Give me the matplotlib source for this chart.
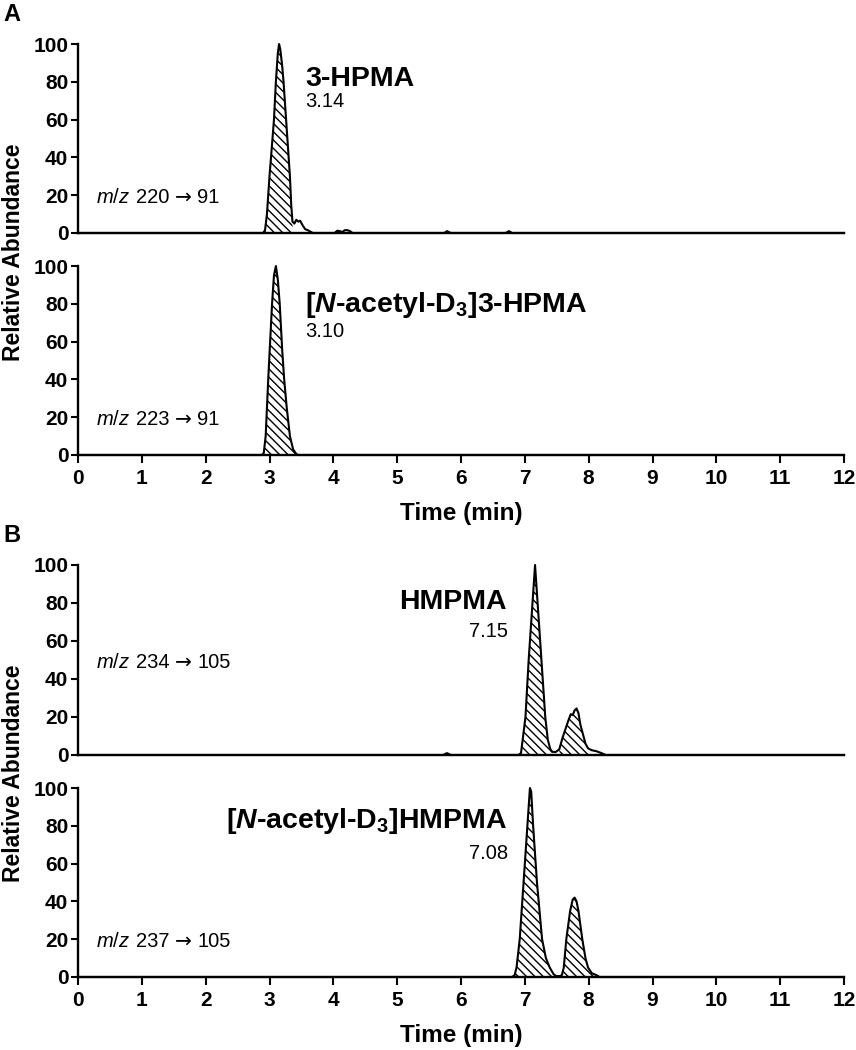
import numpy as np
import matplotlib
matplotlib.use('Agg')
import matplotlib.pyplot as plt
from matplotlib.offsetbox import TextArea, HPacker, AnnotationBbox

plt.rcParams['font.family'] = ['Liberation Sans', 'DejaVu Sans']
plt.rcParams['mathtext.fontset'] = 'custom'
plt.rcParams['mathtext.rm'] = 'Liberation Sans'
plt.rcParams['mathtext.it'] = 'Liberation Sans:italic'
plt.rcParams['mathtext.bf'] = 'Liberation Sans:bold'
plt.rcParams['mathtext.bfit'] = 'Liberation Sans:bold:italic'
plt.rcParams['hatch.linewidth'] = 1.0

# ---- data (time in min, relative abundance in %) ----
# 3-HPMA, m/z 220 -> 91
hpma_t = [0, 2.90, 2.93, 2.96, 3.00, 3.04, 3.07, 3.10, 3.13, 3.15, 3.17, 3.20, 3.22,
          3.26, 3.29, 3.32, 3.34, 3.36, 3.39, 3.42, 3.45, 3.48, 3.52, 3.56, 3.60, 3.65,
          3.68, 4.02, 4.06, 4.10, 4.14, 4.18, 4.22, 4.26, 4.30, 5.74, 5.78, 5.84, 6.70,
          6.75, 6.80, 12]
hpma_y = [0, 0, 1.5, 10, 30, 47, 60, 80, 95, 100, 97, 88, 80,
          60, 45, 30, 15, 6, 5, 7, 6, 6.5, 4, 2, 1.5, 0.5,
          0, 0, 1.2, 1, 0.5, 1.5, 1.5, 1, 0, 0, 1, 0, 0,
          1, 0, 0]

# [N-acetyl-D3]3-HPMA, m/z 223 -> 91
hpma_d3_t = [0, 2.88, 2.91, 2.94, 2.98, 3.01, 3.04, 3.07, 3.10, 3.13, 3.16, 3.20,
             3.23, 3.27, 3.32, 3.37, 3.42, 3.45, 12]
hpma_d3_y = [0, 0, 1, 10, 40, 60, 80, 95, 100, 93, 80, 55,
             40, 25, 10, 3, 0.5, 0, 0]

# HMPMA, m/z 234 -> 105
hmpma_t = [0, 5.72, 5.78, 5.84, 6.90, 6.94, 7.01, 7.06, 7.12, 7.16, 7.20, 7.26, 7.32,
           7.36, 7.40, 7.43, 7.48, 7.54, 7.59, 7.63, 7.68, 7.72, 7.75, 7.78, 7.81,
           7.84, 7.87, 7.91, 7.95, 7.99, 8.05, 8.12, 8.20, 8.27, 12]
hmpma_y = [0, 0, 1, 0, 0, 1, 20, 50, 80, 100, 80, 50, 20,
           8, 3, 1.7, 1.5, 3, 9, 13, 18, 21.5, 21, 23.5, 24.5,
           22, 16, 11, 6, 3.5, 2.5, 2, 1, 0, 0]

# [N-acetyl-D3]HMPMA, m/z 237 -> 105
hmpma_d3_t = [0, 6.80, 6.84, 6.87, 6.92, 6.98, 7.04, 7.08, 7.10, 7.13, 7.19, 7.27,
              7.33, 7.39, 7.45, 7.49, 7.55, 7.58, 7.61, 7.65, 7.71, 7.75, 7.78, 7.81,
              7.84, 7.90, 7.95, 7.99, 8.05, 8.12, 8.17, 12]
hmpma_d3_y = [0, 0, 1, 5, 20, 50, 80, 100, 98, 80, 50, 20,
              10, 5, 1.5, 0.5, 0.5, 1, 5, 20, 35, 41, 42, 40,
              35, 20, 10, 5, 2, 1, 0, 0]

# hatched (integrated) windows
hpma_win = [(2.90, 3.36)]
hpma_d3_win = [(2.88, 3.45)]
hmpma_win = [(6.90, 7.43), (7.50, 8.05)]
hmpma_d3_win = [(6.80, 7.49), (7.56, 8.17)]

traces = [
    (hpma_t, hpma_y, hpma_win, '3-HPMA', '3.14', '220', '91'),
    (hpma_d3_t, hpma_d3_y, hpma_d3_win, r'[$\mathbfit{N}$-acetyl-D$_\mathbf{3}$]3-HPMA', '3.10', '223', '91'),
    (hmpma_t, hmpma_y, hmpma_win, 'HMPMA', '7.15', '234', '105'),
    (hmpma_d3_t, hmpma_d3_y, hmpma_d3_win, r'[$\mathbfit{N}$-acetyl-D$_\mathbf{3}$]HMPMA', '7.08', '237', '105'),
]

# axes placement in pixels (top of 100 tick, 0 tick)
W, H = 856, 1050
x_left, x_right = 78, 844
y_pos = [(44, 233), (266, 455), (565, 755), (788, 977)]
# compound label placement: (x, y baseline, ha)
name_pos = [(305, 86, 'left'), (305, 312, 'left'), (507, 609, 'right'), (507, 828, 'right')]
rt_pos = [(305, 107, 'left'), (305, 337, 'left'), (508, 637, 'right'), (508, 859, 'right')]
mz_pos = [(96, 203), (96, 425), (96, 668), (96, 947)]

fig = plt.figure(figsize=(W / 100, H / 100), dpi=100)

for i, (t, y, win, name, rt, q1, q3) in enumerate(traces):
    top, bot = y_pos[i]
    ax = fig.add_axes([x_left / W, 1 - bot / H, (x_right - x_left) / W, (bot - top) / H])
    t = np.array(t)
    y = np.array(y)
    for a, b in win:
        m = (t >= a) & (t <= b)
        ax.fill_between(t[m], 0, y[m], facecolor='white', edgecolor='black',
                        hatch='\\\\\\\\', linewidth=0, zorder=2)
    ax.plot(t, y, color='black', lw=1.5, zorder=3, clip_on=False)

    ax.set_xlim(0, 12)
    ax.set_ylim(0, 100)
    ax.set_yticks(range(0, 101, 20))
    for s in ['top', 'right']:
        ax.spines[s].set_visible(False)
    for s in ['left', 'bottom']:
        ax.spines[s].set_linewidth(1.7)
    ax.tick_params(axis='y', length=5, width=1.5, labelsize=15, pad=2)
    for lab in ax.get_yticklabels():
        lab.set_fontweight('bold')
    if i % 2 == 0:
        ax.tick_params(axis='x', bottom=False, labelbottom=False)
    else:
        ax.set_xticks(range(0, 13))
        ax.tick_params(axis='x', length=6, width=1.5, labelsize=15, pad=4)
        for lab in ax.get_xticklabels():
            lab.set_fontweight('bold')
        ax.set_xlabel('Time (min)', fontsize=17.5, fontweight='bold', labelpad=10)

    nx, ny, ha = name_pos[i]
    fig.text(nx / W, 1 - ny / H, name, fontsize=20.5, fontweight='bold', ha=ha, va='baseline')
    rx, ry, ha = rt_pos[i]
    fig.text(rx / W, 1 - ry / H, rt, fontsize=14.5, ha=ha, va='baseline')

    # transition label, arrow taken from DejaVu Sans (fuller glyph)
    mx, my = mz_pos[i]
    parts = [TextArea(r'$\mathit{m/z}$', textprops=dict(fontsize=14.5)),
             TextArea(q1, textprops=dict(fontsize=14.5)),
             TextArea('\u2192', textprops=dict(fontsize=14.5, family='DejaVu Sans')),
             TextArea(q3, textprops=dict(fontsize=14.5))]
    box = HPacker(children=parts, align='baseline', pad=0, sep=4)
    ab = AnnotationBbox(box, (mx / W, 1 - (my + 4) / H), xycoords='figure fraction',
                        box_alignment=(0, 0), frameon=False, pad=0)
    fig.add_artist(ab)

# shared y labels and panel letters
fig.text(14 / W, 1 - 252 / H, 'Relative Abundance', rotation=90, fontsize=16.5,
         fontweight='bold', ha='center', va='center')
fig.text(14 / W, 1 - 773 / H, 'Relative Abundance', rotation=90, fontsize=16.5,
         fontweight='bold', ha='center', va='center')
fig.text(3 / W, 1 - 21 / H, 'A', fontsize=17, fontweight='bold', ha='left', va='baseline')
fig.text(3 / W, 1 - 542 / H, 'B', fontsize=17, fontweight='bold', ha='left', va='baseline')

fig.savefig('out.png', dpi=100)
